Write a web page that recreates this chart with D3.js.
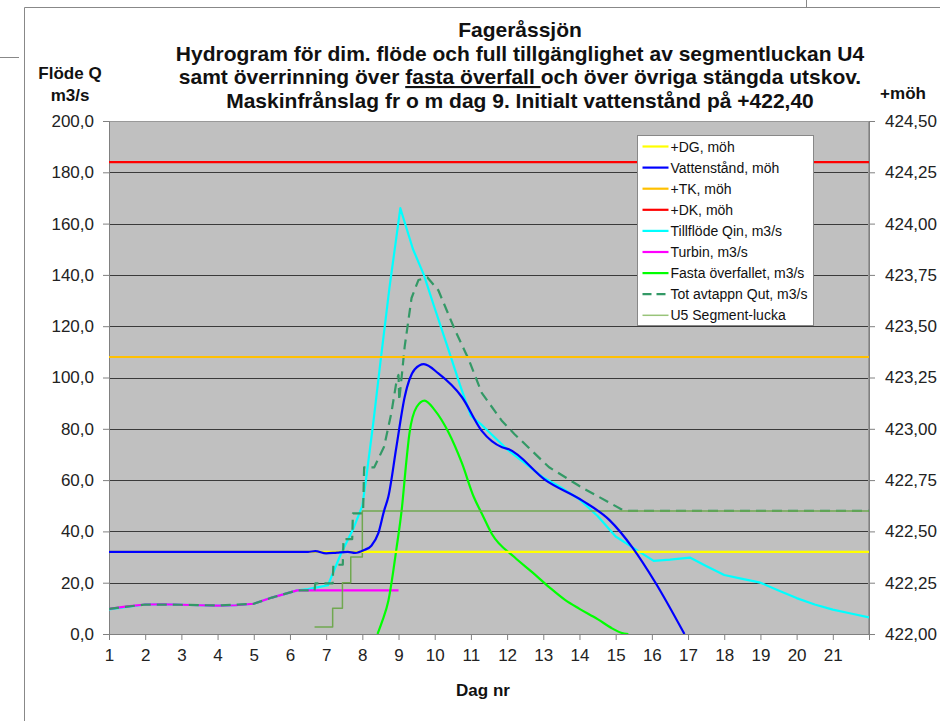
<!DOCTYPE html>
<html>
<head>
<meta charset="utf-8">
<script src="https://cdn.jsdelivr.net/npm/d3@7"></script>
<style>
  body { margin: 0; background: #fff; }
  svg { display: block; font-family: "Liberation Sans", Arial, sans-serif; }
  .tick text { font-size: 17px; fill: #222; }
  .legend text { font-size: 14px; fill: #111; }
</style>
</head>
<body>
<div id="chart"></div>
<script>
// Series values, [dag, value]
const tillflode = [[1, 9.6], [1.5, 10.6], [2, 11.5], [2.5, 11.6], [3, 11.4], [3.5, 11.2], [4, 11.1], [4.5, 11.2],
  [5, 11.8], [5.5, 14.2], [6.2, 17], [6.5, 17.5], [7.05, 19], [7.4, 31], [7.75, 41], [8.0, 50], [8.1, 60],
  [8.3, 82], [8.5, 106], [8.75, 135], [9.05, 166], [9.4, 150], [9.7, 140], [10.0, 127], [10.4, 110],
  [10.7, 97], [11.0, 85], [11.3, 81.5], [12, 72], [12.5, 66.5], [13, 61], [13.5, 57], [14, 52.5],
  [14.5, 46], [15, 38], [15.5, 33.5], [16.05, 28.5], [16.5, 29], [17.05, 29.8], [17.5, 26.5], [18, 23],
  [18.5, 21.5], [19, 20], [19.5, 17], [20, 14], [20.5, 11.5], [21, 9.5], [21.5, 8], [22, 6.5]];

const turbin = [[1, 9.8], [1.5, 10.8], [2, 11.5], [2.5, 11.6], [3, 11.4], [3.5, 11.2], [4, 11.1], [4.5, 11.2],
  [5, 11.8], [5.5, 14.2], [6.2, 17], [9.0, 17]];

const fastaOverfall = [[8.42, 0], [8.55, 5], [8.72, 13], [8.94, 33], [9.1, 50], [9.2, 65], [9.3, 78],
  [9.5, 88.5], [9.72, 91], [10.0, 87.3], [10.39, 78.4], [10.75, 66.7], [11.08, 53.4], [11.3, 47],
  [11.58, 39], [12.2, 30], [12.7, 24], [13.16, 18.3], [13.6, 13.3], [14.0, 9.8], [14.5, 5.8],
  [14.9, 2.2], [15.15, 0.5], [15.35, 0]];

const totAvtappn = [[1, 9.8], [2, 11.5], [3, 11.4], [4, 11.1], [5, 11.8], [5.5, 14.2], [6.2, 17], [6.68, 17],
  [6.7, 19.7], [7.18, 19.7], [7.2, 27], [7.46, 27], [7.48, 37], [7.72, 37], [7.74, 47], [8.02, 47],
  [8.05, 65], [8.33, 65], [8.6, 73], [8.8, 86], [8.95, 99], [9.0, 101], [9.02, 91], [9.17, 112],
  [9.36, 131], [9.55, 138], [9.8, 139], [10.1, 134], [10.56, 118.5], [10.94, 107], [11.3, 94],
  [11.86, 83], [12.2, 78], [13.16, 65], [14.08, 57], [15.2, 48.3], [15.35, 48], [22, 48]];

const u5Segment = [[6.68, 2.7], [7.18, 2.7], [7.18, 10], [7.45, 10], [7.45, 20], [7.68, 20], [7.68, 30],
  [8.0, 30], [8.0, 48], [22, 48]];

const vattenstand = [[1, 422.40], [6.5, 422.40], [6.7, 422.404], [7.0, 422.393], [7.3, 422.397],
  [7.6, 422.40], [7.8, 422.395], [8.06, 422.41], [8.25, 422.43], [8.44, 422.49], [8.6, 422.60],
  [8.72, 422.67], [8.94, 422.91], [9.17, 423.155], [9.45, 423.29], [9.7, 423.315], [10.1, 423.27],
  [10.75, 423.155], [11.3, 422.99], [11.86, 422.91], [12.05, 422.90], [13.06, 422.75], [14.08, 422.65],
  [14.83, 422.555], [15.47, 422.42], [16.1, 422.25], [16.9, 422.00]];

// Constant levels, möh
const levelDG = 422.40;
const levelTK = 423.35;
const levelDK = 424.30;

// Axes
const dagTicks = d3.range(1, 23);
const flodeTicks = d3.range(0, 201, 20);
const mohTicks = d3.range(422, 424.51, 0.25);

const legendLabels = ['+DG, möh', 'Vattenstånd, möh', '+TK, möh', '+DK, möh', 'Tillflöde Qin, m3/s',
  'Turbin, m3/s', 'Fasta överfallet, m3/s', 'Tot avtappn Qut, m3/s', 'U5 Segment-lucka'];

class Hydrogram {
  constructor(_config) {
    this.config = {
      parentElement: _config.parentElement,
      containerWidth: 940,
      containerHeight: 721,
      margin: {
        top: 121, right: 71, bottom: 87, left: 109,
      },
    };
    this.initVis();
  }

  initVis() {
    const vis = this;
    vis.width = vis.config.containerWidth - vis.config.margin.left - vis.config.margin.right;
    vis.height = vis.config.containerHeight - vis.config.margin.top - vis.config.margin.bottom;

    vis.svg = d3.select(vis.config.parentElement).append('svg')
      .attr('width', vis.config.containerWidth)
      .attr('height', vis.config.containerHeight);

    // outer frame bits
    vis.svg.append('path')
      .attr('d', 'M24.5,721 V7.5 H940 M0,57.5 H19 M806.5,0 V7')
      .attr('fill', 'none')
      .attr('stroke', '#888');

    vis.chartArea = vis.svg.append('g')
      .attr('transform', `translate(${vis.config.margin.left},${vis.config.margin.top})`);

    vis.xScale = d3.scaleLinear().domain([1, 22]).range([0, vis.width]);
    vis.yScale = d3.scaleLinear().domain([0, 200]).range([vis.height, 0]);
    vis.y2Scale = d3.scaleLinear().domain([422, 424.5]).range([vis.height, 0]);

    vis.chartArea.append('clipPath').attr('id', 'plotclip')
      .append('rect')
      .attr('width', vis.width)
      .attr('height', vis.height);

    vis.renderVis();
  }

  renderVis() {
    const vis = this;

    vis.chartArea.append('rect')
      .attr('width', vis.width)
      .attr('height', vis.height)
      .attr('fill', '#c0c0c0');

    vis.chartArea.selectAll('.grid')
      .data(flodeTicks.filter((d) => d > 0 && d < 200))
      .join('line')
      .attr('class', 'grid')
      .attr('x1', 0)
      .attr('x2', vis.width)
      .attr('y1', (d) => Math.round(vis.yScale(d)) + 0.5)
      .attr('y2', (d) => Math.round(vis.yScale(d)) + 0.5)
      .attr('stroke', '#3a3a3a');

    vis.chartArea.append('rect')
      .attr('x', 0.5)
      .attr('y', 0.5)
      .attr('width', vis.width - 1)
      .attr('height', vis.height)
      .attr('fill', 'none')
      .attr('stroke', '#999');

    // axes
    const xAxis = d3.axisBottom(vis.xScale)
      .tickValues(dagTicks)
      .tickSize(6)
      .tickFormat((d) => (d <= 21 ? d : ''));
    const yAxis = d3.axisLeft(vis.yScale)
      .tickValues(flodeTicks)
      .tickSize(6)
      .tickPadding(9)
      .tickFormat((d) => d3.format('.1f')(d).replace('.', ','));
    const y2Axis = d3.axisRight(vis.y2Scale)
      .tickValues(mohTicks)
      .tickSize(6)
      .tickPadding(10)
      .tickFormat((d) => d3.format('.2f')(d).replace('.', ','));

    const styleAxis = (g) => {
      g.select('.domain').attr('stroke', '#808080');
      g.selectAll('.tick line').attr('stroke', '#808080');
      g.selectAll('.tick text').attr('font-family', null).attr('font-size', null);
    };

    vis.chartArea.append('g')
      .attr('transform', `translate(0,${vis.height})`)
      .call(xAxis)
      .call(styleAxis)
      .selectAll('.tick text')
      .attr('dy', '1.05em');
    vis.chartArea.append('g').call(yAxis).call(styleAxis);
    vis.chartArea.append('g')
      .attr('transform', `translate(${vis.width},0)`)
      .call(y2Axis)
      .call(styleAxis);

    // series
    const plot = vis.chartArea.append('g').attr('clip-path', 'url(#plotclip)');
    const flowLine = d3.line()
      .x((d) => vis.xScale(d[0]))
      .y((d) => vis.yScale(d[1]));
    const smoothFlow = d3.line()
      .curve(d3.curveMonotoneX)
      .x((d) => vis.xScale(d[0]))
      .y((d) => vis.yScale(d[1]));
    const levelLine = d3.line()
      .curve(d3.curveMonotoneX)
      .x((d) => vis.xScale(d[0]))
      .y((d) => vis.y2Scale(d[1]));

    const flows = [
      { data: tillflode, color: '#00ffff', dash: null },
      { data: turbin, color: '#ff00ff', dash: null },
      { data: fastaOverfall, color: '#00ff00', dash: null, smooth: true },
      { data: totAvtappn, color: '#339966', dash: '10,6' },
      { data: u5Segment, color: '#70a850', dash: null, w: 1.5 },
    ];
    plot.selectAll('.flow')
      .data(flows)
      .join('path')
      .attr('class', 'flow')
      .attr('d', (d) => (d.smooth ? smoothFlow(d.data) : flowLine(d.data)))
      .attr('fill', 'none')
      .attr('stroke', (d) => d.color)
      .attr('stroke-width', (d) => d.w || 2.2)
      .attr('stroke-dasharray', (d) => d.dash)
      .attr('stroke-linejoin', 'round');

    const levels = [
      { data: [[1, levelDG], [22, levelDG]], color: '#ffff00' },
      { data: vattenstand, color: '#0000ff' },
      { data: [[1, levelTK], [22, levelTK]], color: '#ffc000' },
      { data: [[1, levelDK], [22, levelDK]], color: '#ff0000' },
    ];
    plot.selectAll('.level')
      .data(levels)
      .join('path')
      .attr('class', 'level')
      .attr('d', (d) => levelLine(d.data))
      .attr('fill', 'none')
      .attr('stroke', (d) => d.color)
      .attr('stroke-width', 2.2)
      .attr('stroke-linejoin', 'round');

    // legend
    const legendStyles = [
      { color: '#ffff00' }, { color: '#0000ff' }, { color: '#ffc000' }, { color: '#ff0000' },
      { color: '#00ffff' }, { color: '#ff00ff' }, { color: '#00ff00' },
      { color: '#339966', dash: '9,5' }, { color: '#99c47a', w: 1.5 },
    ];
    const legend = vis.svg.append('g')
      .attr('class', 'legend')
      .attr('transform', 'translate(637.5,135.5)');
    legend.append('rect')
      .attr('width', 176)
      .attr('height', 190)
      .attr('fill', '#fff')
      .attr('stroke', '#888');
    const items = legend.selectAll('.item')
      .data(legendLabels)
      .join('g')
      .attr('class', 'item')
      .attr('transform', (d, i) => `translate(0,${11 + i * 21.1})`);
    items.append('line')
      .attr('x1', 5)
      .attr('x2', 31)
      .attr('stroke', (d, i) => legendStyles[i].color)
      .attr('stroke-width', (d, i) => legendStyles[i].w || 2.2)
      .attr('stroke-dasharray', (d, i) => legendStyles[i].dash || null);
    items.append('text')
      .attr('x', 33)
      .attr('dy', '0.36em')
      .text((d) => d);

    // titles
    const title = vis.svg.append('text')
      .attr('text-anchor', 'middle')
      .attr('font-weight', 'bold')
      .attr('font-size', 21)
      .attr('fill', '#111');
    title.append('tspan').attr('x', 520).attr('y', 37).text('Fageråssjön');
    title.append('tspan').attr('x', 520).attr('y', 61)
      .text('Hydrogram för dim. flöde och full tillgänglighet av segmentluckan U4');
    const line3 = title.append('tspan').attr('x', 520).attr('y', 84);
    line3.append('tspan').text('samt överrinning över ');
    line3.append('tspan').attr('text-decoration', 'underline').text('fasta överfall ');
    line3.append('tspan').text('och över övriga stängda utskov.');
    title.append('tspan').attr('x', 520).attr('y', 108)
      .text('Maskinfrånslag fr o m dag 9. Initialt vattenstånd på +422,40');

    const axisTitle = (x, y, txt) => vis.svg.append('text')
      .attr('x', x)
      .attr('y', y)
      .attr('text-anchor', 'middle')
      .attr('font-weight', 'bold')
      .attr('font-size', 17)
      .attr('fill', '#111')
      .text(txt);
    axisTitle(70, 79, 'Flöde Q');
    axisTitle(70, 101, 'm3/s');
    axisTitle(903, 99, '+möh');
    axisTitle(483, 696, 'Dag nr');
  }
}

const hydrogram = new Hydrogram({ parentElement: '#chart' });
</script>
</body>
</html>
